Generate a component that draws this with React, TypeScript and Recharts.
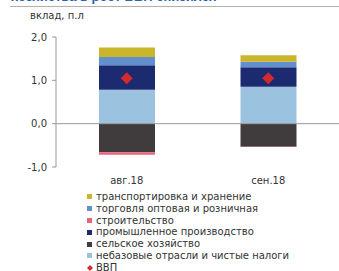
import {
  ComposedChart,
  Bar,
  Line,
  XAxis,
  YAxis,
  ReferenceLine,
} from 'recharts';

const months = ['авг.18', 'сен.18'];
const nonBase = [0.78, 0.85];
const agriculture = [-0.66, -0.53];
const industry = [0.57, 0.45];
const construction = [-0.06, -0.01];
const trade = [0.19, 0.13];
const transport = [0.22, 0.15];
const gdp = [1.05, 1.05];
const yTicks = [-1, 0, 1, 2];

const series = [
  { key: 'transport', name: 'транспортировка и хранение', color: '#cbb52a' },
  { key: 'trade', name: 'торговля оптовая и розничная', color: '#6290cf' },
  { key: 'construction', name: 'строительство', color: '#e5667b' },
  { key: 'industry', name: 'промышленное производство', color: '#1c2b70' },
  { key: 'agriculture', name: 'сельское хозяйство', color: '#403c3e' },
  { key: 'nonBase', name: 'небазовые отрасли и чистые налоги', color: '#9bc2de' },
];

const data = months.map((m, i) => ({
  month: m,
  nonBase: nonBase[i],
  agriculture: agriculture[i],
  industry: industry[i],
  construction: construction[i],
  trade: trade[i],
  transport: transport[i],
  gdp: gdp[i],
}));

const colorOf = (k: string) => series.find((s) => s.key === k)!.color;
const fmt = (v: number) => v.toFixed(1).replace('.', ',');
const font = '"DejaVu Sans", sans-serif';

const Diamond = (props: any) => {
  const { cx, cy } = props;
  if (cx == null || cy == null) return null;
  const r = 6;
  return (
    <path
      d={`M${cx},${cy - r} L${cx + r},${cy} L${cx},${cy + r} L${cx - r},${cy} Z`}
      fill="#d42a2d"
    />
  );
};

export default function App() {
  return (
    <div style={{ position: 'absolute', left: 0, top: 0, width: 339, height: 271, background: '#fff', overflow: 'hidden', fontFamily: font }}>
      <div style={{ position: 'absolute', left: 11, top: -11, fontSize: 13, fontWeight: 'bold', color: '#2a62b0', whiteSpace: 'nowrap', fontFamily: '"Liberation Sans", Arial, sans-serif' }}>
        хозяйства в рост ВВП снизился
      </div>
      <div style={{ position: 'absolute', left: 10, right: 0, top: 6, height: 1, background: '#b0b0b0' }} />
      <div style={{ position: 'absolute', left: 30, top: 10, fontSize: 10, color: '#333' }}>вклад, п.л</div>
      <ComposedChart
        width={339}
        height={271}
        data={data}
        stackOffset="sign"
        margin={{ top: 37, right: 0, left: 0, bottom: 84 }}
      >
        <YAxis
          domain={[-1, 2]}
          ticks={yTicks}
          tickFormatter={fmt}
          width={56}
          stroke="#999"
          tickSize={4}
          tickMargin={5}
          tick={{ fill: '#333', fontSize: 10, fontFamily: font }}
          interval={0}
        />
        <XAxis
          dataKey="month"
          axisLine={false}
          tickLine={false}
          height={20}
          tickMargin={4}
          tick={{ fill: '#333', fontSize: 10, fontFamily: font }}
        />
        <ReferenceLine y={0} stroke="#999" />
        {['nonBase', 'agriculture', 'industry', 'construction', 'trade', 'transport'].map((k) => (
          <Bar key={k} dataKey={k} stackId="a" fill={colorOf(k)} barSize={56} isAnimationActive={false} />
        ))}
        <Line dataKey="gdp" stroke="none" dot={<Diamond />} activeDot={false} isAnimationActive={false} />
      </ComposedChart>
      <div style={{ position: 'absolute', left: 87, top: 191, fontSize: 10, color: '#333', lineHeight: '11.8px' }}>
        {series.map((s) => (
          <div key={s.key} style={{ display: 'flex', alignItems: 'center', whiteSpace: 'nowrap', height: 11.8 }}>
            <span style={{ width: 5, height: 5, background: s.color, marginRight: 4 }} />
            {s.name}
          </div>
        ))}
        <div style={{ display: 'flex', alignItems: 'center', whiteSpace: 'nowrap', height: 11.8 }}>
          <svg width={6} height={6} style={{ marginRight: 3 }}>
            <path d="M3,0 L6,3 L3,6 L0,3 Z" fill="#d42a2d" />
          </svg>
          ВВП
        </div>
      </div>
    </div>
  );
}
